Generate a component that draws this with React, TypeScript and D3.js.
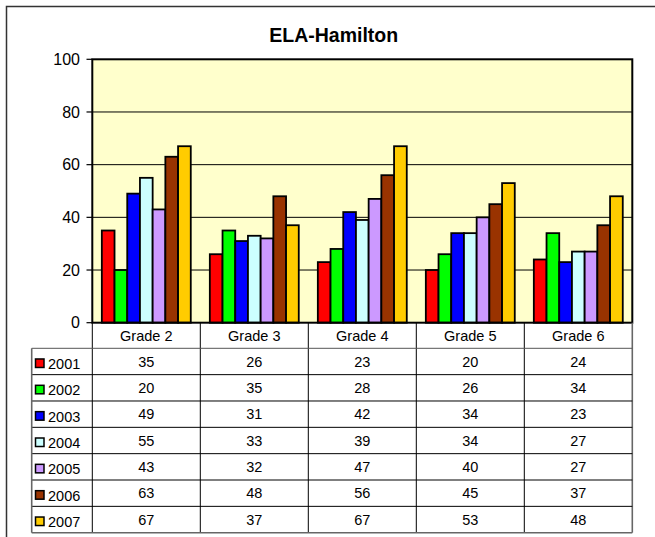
import React from "react";
import * as d3 from "d3";

const categories = ["Grade 2", "Grade 3", "Grade 4", "Grade 5", "Grade 6"];
const years = ["2001", "2002", "2003", "2004", "2005", "2006", "2007"];
const v2001 = [35, 26, 23, 20, 24];
const v2002 = [20, 35, 28, 26, 34];
const v2003 = [49, 31, 42, 34, 23];
const v2004 = [55, 33, 39, 34, 27];
const v2005 = [43, 32, 47, 40, 27];
const v2006 = [63, 48, 56, 45, 37];
const v2007 = [67, 37, 67, 53, 48];
const seriesValues = [v2001, v2002, v2003, v2004, v2005, v2006, v2007];
const colors = ["#FF0000", "#00FF00", "#0000FF", "#CCFFFF", "#CC99FF", "#993300", "#FFCC00"];
const yTicks = [0, 20, 40, 60, 80, 100];
const title = "ELA-Hamilton";

const FONT = "'Liberation Sans', Arial, Helvetica, sans-serif";

export default function App() {
  const W = 655, H = 537;
  const px0 = 92.3, px1 = 632.3, pyTop = 59.3, pyBot = 322.7;
  const x = d3.scaleBand<string>().domain(categories).range([px0, px1]).padding(0);
  const xi = d3.scaleBand<string>().domain(years).range([0, x.bandwidth()]).paddingInner(0).paddingOuter(0.75);
  const y = d3.scaleLinear().domain([0, 100]).range([pyBot, pyTop]);

  const headerBot = 348.3;
  const rowH = (532.7 - headerBot) / years.length;
  const tableLeft = 31.7;
  const tableBot = headerBot + rowH * years.length;
  const colEdges = [...categories.map((c) => x(c) as number), px1];

  return (
    <svg width={W} height={H} style={{ position: "absolute", left: 0, top: 0 }} fontFamily={FONT}>
      <rect x={0} y={0} width={W} height={H} fill="#fff" />
      <rect x={6.5} y={6.5} width={800} height={700} fill="#fff" stroke="#333" strokeWidth={1.5} />
      <text x={333.7} y={42} textAnchor="middle" fontWeight="bold" fontSize={19.5} fill="#000">
        {title}
      </text>
      {/* plot area */}
      <rect x={px0} y={pyTop} width={px1 - px0} height={pyBot - pyTop} fill="#FFFFCC" />
      {yTicks.filter((t) => t > 0 && t < 100).map((t) => (
        <line key={t} x1={px0} x2={px1} y1={y(t)} y2={y(t)} stroke="#000" strokeWidth={1} />
      ))}
      {/* bars */}
      {seriesValues.map((vals, si) =>
        vals.map((v, ci) => {
          const bx = (x(categories[ci]) as number) + (xi(years[si]) as number);
          return (
            <rect
              key={`${si}-${ci}`}
              x={bx}
              y={y(v)}
              width={xi.bandwidth()}
              height={y(0) - y(v)}
              fill={colors[si]}
              stroke="#000"
              strokeWidth={1.8}
            />
          );
        })
      )}
      <rect x={px0} y={pyTop} width={px1 - px0} height={pyBot - pyTop} fill="none" stroke="#000" strokeWidth={2} />
      {/* y axis ticks */}
      {yTicks.map((t) => (
        <g key={t}>
          <line x1={86.5} x2={px0} y1={y(t)} y2={y(t)} stroke="#000" strokeWidth={1.2} />
          <text x={80} y={y(t)} dy="0.36em" textAnchor="end" fontSize={16} fill="#000">
            {t}
          </text>
        </g>
      ))}
      {/* data table */}
      {colEdges.map((cx, i) => (
        <line
          key={i}
          x1={cx}
          x2={cx}
          y1={pyBot}
          y2={tableBot}
          stroke={i === colEdges.length - 1 ? "#666" : "#000"}
          strokeWidth={i === colEdges.length - 1 ? 1.6 : 1}
        />
      ))}
      {years.map((yr, ri) => (
        <line
          key={yr}
          x1={tableLeft}
          x2={px1}
          y1={headerBot + ri * rowH}
          y2={headerBot + ri * rowH}
          stroke={ri === 0 ? "#555" : "#000"}
          strokeWidth={1}
        />
      ))}
      <line x1={tableLeft} x2={px1} y1={tableBot} y2={tableBot} stroke="#666" strokeWidth={1.6} />
      <line x1={tableLeft} x2={tableLeft} y1={headerBot} y2={tableBot} stroke="#666" strokeWidth={1.6} />
      {categories.map((c) => (
        <text
          key={c}
          x={(x(c) as number) + x.bandwidth() / 2}
          y={(pyBot + headerBot) / 2}
          dy="0.36em"
          textAnchor="middle"
          fontSize={14.5}
          fill="#000"
        >
          {c}
        </text>
      ))}
      {years.map((yr, ri) => {
        const cy = headerBot + ri * rowH + rowH / 2;
        return (
          <g key={yr}>
            <rect x={35.5} y={cy - 2.5} width={8.5} height={8.5} fill={colors[ri]} stroke="#000" strokeWidth={1.5} />
            <text x={48} y={cy + 2.2} dy="0.36em" fontSize={14.5} fill="#000">
              {yr}
            </text>
            {seriesValues[ri].map((v, ci) => (
              <text
                key={ci}
                x={(x(categories[ci]) as number) + x.bandwidth() / 2}
                y={cy}
                dy="0.36em"
                textAnchor="middle"
                fontSize={14.5}
                fill="#000"
              >
                {v}
              </text>
            ))}
          </g>
        );
      })}
    </svg>
  );
}
